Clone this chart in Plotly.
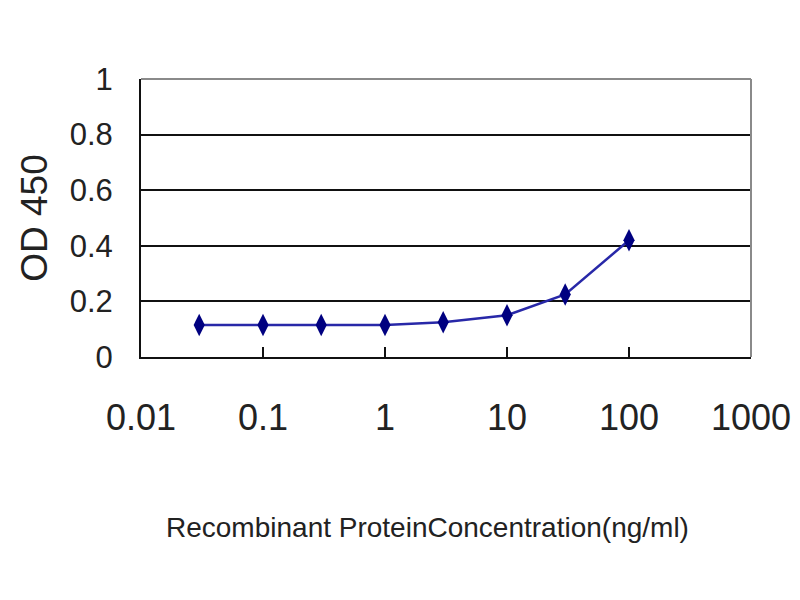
import plotly.graph_objects as go

concentration = [0.03, 0.1, 0.3, 1, 3, 10, 30, 100]
od450 = [0.115, 0.115, 0.115, 0.115, 0.125, 0.15, 0.225, 0.42]

x_tick_vals = [0.01, 0.1, 1, 10, 100, 1000]
x_tick_text = ["0.01", "0.1", "1", "10", "100", "1000"]
y_tick_vals = [0, 0.2, 0.4, 0.6, 0.8, 1]
y_tick_text = ["0", "0.2", "0.4", "0.6", "0.8", "1"]
x_title = "Recombinant ProteinConcentration(ng/ml)"
y_title = "OD 450"

font_family = "Liberation Sans, Arial, sans-serif"

fig = go.Figure()
fig.add_trace(go.Scatter(
    x=concentration, y=od450, mode="lines+markers",
    line=dict(color="#2828a8", width=2.5),
    marker=dict(symbol="diamond-tall", size=16, color="#000080",
                line=dict(color="#000080", width=0)),
    showlegend=False,
))

fig.update_layout(
    width=800, height=600,
    margin=dict(l=133, r=57, t=71, b=251),
    paper_bgcolor="white", plot_bgcolor="white",
    xaxis=dict(
        type="log", range=[-2, 3], automargin=False,
        tickvals=x_tick_vals, ticktext=x_tick_text,
        ticks="inside", ticklen=10, tickwidth=2, tickcolor="#111",
        showline=True, linecolor="#111", linewidth=2,
        showgrid=False, zeroline=False,
        tickfont=dict(family=font_family, size=36, color="#222"),
        ticklabelstandoff=28,
    ),
    yaxis=dict(
        range=[0, 1], automargin=False,
        tickvals=y_tick_vals, ticktext=y_tick_text,
        ticks="", showline=True, linecolor="#111", linewidth=2,
        showgrid=True, gridcolor="#111", gridwidth=2, zeroline=False,
        tickfont=dict(family=font_family, size=31, color="#222"),
        ticklabelstandoff=20,
        title=dict(text=y_title, font=dict(family=font_family, size=37, color="#222"),
                   standoff=11),
    ),
    annotations=[
        dict(text=x_title, xref="paper", yref="paper", x=0.469, y=-0.612,
             xanchor="center", yanchor="middle", showarrow=False,
             font=dict(family=font_family, size=28, color="#222")),
    ],
    shapes=[
        dict(type="line", xref="paper", yref="paper", x0=0, x1=1, y0=1, y1=1,
             line=dict(color="#8a8a8a", width=2), layer="above"),
        dict(type="line", xref="paper", yref="paper", x0=1, x1=1, y0=0, y1=1,
             line=dict(color="#8a8a8a", width=2), layer="above"),
    ],
)

fig.write_html("out.html")
